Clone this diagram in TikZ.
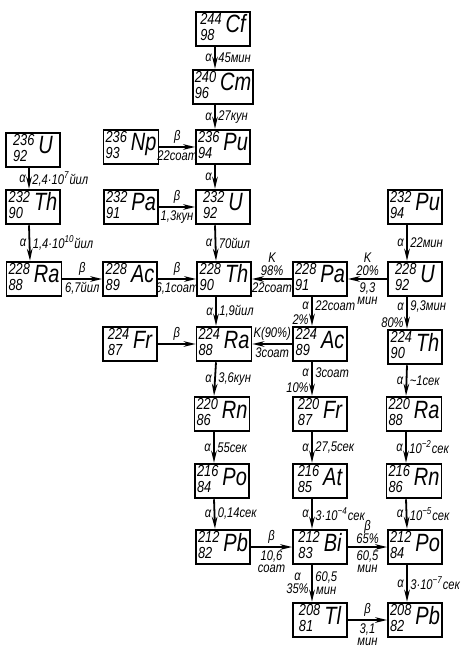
\documentclass[tikz,border=0pt]{standalone}
\usepackage{fontspec}
\setmainfont{Liberation Sans}[FakeStretch=0.8]
\usetikzlibrary{arrows.meta}
\newcommand{\nuc}[3]{{\fontsize{8}{7}\selectfont\begin{tabular}{@{}l@{}}#1\\#2\end{tabular}}\hspace{2pt}{\fontsize{12.5}{12.5}\selectfont #3}}
\begin{document}
\begin{tikzpicture}[x=0.5pt,y=-0.5pt,>={Stealth[length=6pt,width=2.8pt]},font=\itshape,
  iso/.style={draw,line width=0.9pt,minimum width=27pt,minimum height=17pt,inner sep=1pt},
  decay/.style={->,line width=0.9pt},
  lbl/.style={font=\itshape\fontsize{7}{6.4}\selectfont,inner sep=1.2pt,align=center}]
\useasboundingbox (0,0) rectangle (460,651);

% isotopes
\node[iso] (cf244) at (223,29) {\nuc{244}{98}{Cf}};
\node[iso] (cm240) at (223,87) {\nuc{240}{96}{Cm}};
\node[iso] (u236) at (33,150) {\nuc{236}{92}{U}};
\node[iso] (np236) at (131,147) {\nuc{236}{93}{Np}};
\node[iso] (pu236) at (223,147) {\nuc{236}{94}{Pu}};
\node[iso] (th232) at (33,207) {\nuc{232}{90}{Th}};
\node[iso] (pa232) at (131,207) {\nuc{232}{91}{Pa}};
\node[iso] (u232) at (223,207) {\nuc{232}{92}{U}};
\node[iso] (pu232) at (415,207) {\nuc{232}{94}{Pu}};
\node[iso] (ra228) at (34,279) {\nuc{228}{88}{Ra}};
\node[iso] (ac228) at (130,279) {\nuc{228}{89}{Ac}};
\node[iso] (th228) at (224,279) {\nuc{228}{90}{Th}};
\node[iso] (pa228) at (320,279) {\nuc{228}{91}{Pa}};
\node[iso] (u228) at (415,279) {\nuc{228}{92}{U}};
\node[iso] (fr224) at (130,344) {\nuc{224}{87}{Fr}};
\node[iso] (ra224) at (224,344) {\nuc{224}{88}{Ra}};
\node[iso] (ac224) at (320,344) {\nuc{224}{89}{Ac}};
\node[iso] (th224) at (415,347) {\nuc{224}{90}{Th}};
\node[iso] (rn220) at (222,414) {\nuc{220}{86}{Rn}};
\node[iso] (fr220) at (320,414) {\nuc{220}{87}{Fr}};
\node[iso] (ra220) at (414,414) {\nuc{220}{88}{Ra}};
\node[iso] (po216) at (222,481) {\nuc{216}{84}{Po}};
\node[iso] (at216) at (320,481) {\nuc{216}{85}{At}};
\node[iso] (rn216) at (414,481) {\nuc{216}{86}{Rn}};
\node[iso] (pb212) at (223,547) {\nuc{212}{82}{Pb}};
\node[iso] (bi212) at (320,547) {\nuc{212}{83}{Bi}};
\node[iso] (po212) at (415,547) {\nuc{212}{84}{Po}};
\node[iso] (tl208) at (320,620) {\nuc{208}{81}{Tl}};
\node[iso] (pb208) at (415,620) {\nuc{208}{82}{Pb}};

% alpha decays, drawn a little left of the box centres
\tikzset{lft/.style={xshift=-4pt}}
\draw[decay] ([lft]cf244.south) -- node[lbl,left]{α} node[lbl,right]{45мин} ([lft]cm240.north);
\draw[decay] ([lft]cm240.south) -- node[lbl,left]{α} node[lbl,right]{27кун} ([lft]pu236.north);
\draw[decay] ([lft]pu236.south) -- node[lbl,left]{α} ([lft]u232.north);
\draw[decay] ([xshift=-2pt]u236.south) -- node[lbl,left]{α} node[lbl,right]{2,4·10\textsuperscript{7}йил} ([xshift=-2pt]th232.north);
\draw[decay] ([xshift=-2pt]th232.south) -- node[lbl,left]{α} node[lbl,right]{1,4·10\textsuperscript{10}йил} ([xshift=-2pt]ra228.north);
\draw[decay] ([lft]u232.south) -- node[lbl,left]{α} node[lbl,right]{70йил} ([lft]th228.north);
\draw[decay] ([lft]pu232.south) -- node[lbl,left]{α} node[lbl,right]{22мин} ([lft]u228.north);
\draw[decay] ([lft]th228.south) -- node[lbl,left]{α} node[lbl,right]{1,9йил} ([lft]ra224.north);
\draw[decay] ([lft]pa228.south) -- node[lbl,left,pos=0.3]{α} node[lbl,right,pos=0.3]{22соат} node[lbl,left,pos=0.8]{2\%} ([lft]ac224.north);
\draw[decay] ([lft]u228.south) -- node[lbl,left,pos=0.3]{α} node[lbl,right,pos=0.3]{9,3мин} node[lbl,left,pos=0.8]{80\%} ([lft]th224.north);
\draw[decay] ([lft]ra224.south) -- node[lbl,left]{α} node[lbl,right]{3,6кун} ([lft]rn220.north);
\draw[decay] ([lft]ac224.south) -- node[lbl,left,pos=0.3]{α} node[lbl,right,pos=0.3]{3соат} node[lbl,left,pos=0.75]{10\%} ([lft]fr220.north);
\draw[decay] ([lft]th224.south) -- node[lbl,left]{α} node[lbl,right]{\textasciitilde1сек} ([lft]ra220.north);
\draw[decay] ([lft]rn220.south) -- node[lbl,left]{α} node[lbl,right]{55сек} ([lft]po216.north);
\draw[decay] ([lft]fr220.south) -- node[lbl,left]{α} node[lbl,right]{27,5сек} ([lft]at216.north);
\draw[decay] ([lft]ra220.south) -- node[lbl,left]{α} node[lbl,right]{10\textsuperscript{−2}сек} ([lft]rn216.north);
\draw[decay] ([lft]po216.south) -- node[lbl,left]{α} node[lbl,right]{0,14сек} ([lft]pb212.north);
\draw[decay] ([lft]at216.south) -- node[lbl,left]{α} node[lbl,right]{3·10\textsuperscript{−4}сек} ([lft]bi212.north);
\draw[decay] ([lft]rn216.south) -- node[lbl,left]{α} node[lbl,right]{10\textsuperscript{−5}сек} ([lft]po212.north);
\draw[decay] ([lft]bi212.south) -- node[lbl,left]{α\\35\%} node[lbl,right]{60,5\\мин} ([lft]tl208.north);
\draw[decay] ([lft]po212.south) -- node[lbl,left]{α} node[lbl,right]{3·10\textsuperscript{−7}сек} ([lft]pb208.north);

% beta decays and K-capture
\draw[decay] (np236) -- node[lbl,above]{β} node[lbl,below]{22соат} (pu236);
\draw[decay] (pa232) -- node[lbl,above]{β} node[lbl,below]{1,3кун} (u232);
\draw[decay] (ra228) -- node[lbl,above]{β} node[lbl,below]{6,7йил} (ac228);
\draw[decay] (ac228) -- node[lbl,above]{β} node[lbl,below]{6,1соат} (th228);
\draw[decay] (pa228) -- node[lbl,above]{K\\98\%} node[lbl,below]{22соат} (th228);
\draw[decay] (u228) -- node[lbl,above]{K\\20\%} node[lbl,below]{9,3\\мин} (pa228);
\draw[decay] (fr224) -- node[lbl,above]{β} (ra224);
\draw[decay] (ac224) -- node[lbl,above]{K(90\%)} node[lbl,below]{3соат} (ra224);
\draw[decay] (pb212) -- node[lbl,above]{β} node[lbl,below]{10,6\\соат} (bi212);
\draw[decay] (bi212) -- node[lbl,above]{β\\65\%} node[lbl,below]{60,5\\мин} (po212);
\draw[decay] (tl208) -- node[lbl,above]{β} node[lbl,below]{3,1\\мин} (pb208);
\end{tikzpicture}
\end{document}
